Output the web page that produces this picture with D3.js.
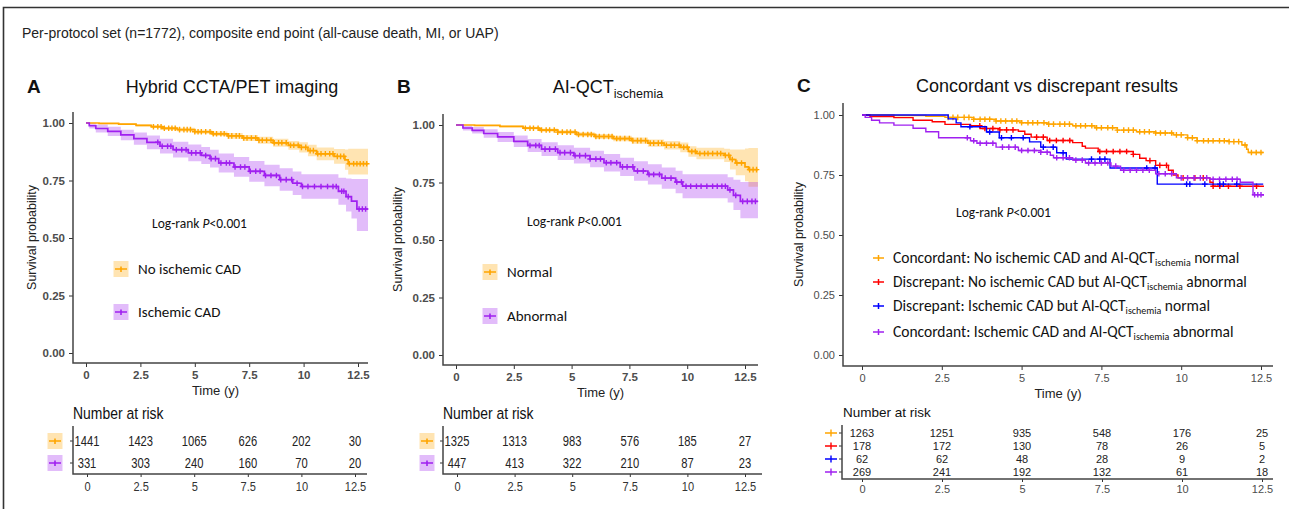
<!DOCTYPE html>
<html>
<head>
<meta charset="utf-8">
<script src="https://cdn.jsdelivr.net/npm/d3@7/dist/d3.min.js"></script>
<style>
  body { margin: 0; background: #fff; }
  svg text { font-family: "Liberation Sans", Arial, sans-serif; }
  .cal { font-family: Carlito, Calibri, Lato, sans-serif !important; }
</style>
</head>
<body>
<svg id="fig" width="1289" height="509"></svg>
<script>
// ---- data ----
const xTicks = [0, 2.5, 5, 7.5, 10, 12.5];
const xTickLabels = ['0', '2.5', '5', '7.5', '10', '12.5'];
const yTicks = [0, 0.25, 0.5, 0.75, 1];
const yTickLabels = ['0.00', '0.25', '0.50', '0.75', '1.00'];
const riskTimes = [0, 2.5, 5, 7.5, 10, 12.5];

// rows: [time, survival, lower CI, upper CI]
const hybridNoIsch = [
  [0,1,1,1],[0.6,.998,.995,1],[1.5,.995,.991,.999],[2.3,.99,.985,.995],[3.0,.984,.978,.99],
  [3.5,.977,.97,.984],[4.2,.971,.963,.979],[5.0,.962,.953,.971],[5.8,.953,.943,.963],
  [6.5,.944,.932,.956],[7.2,.935,.922,.948],[7.9,.925,.91,.94],[8.6,.914,.897,.931],
  [9.3,.903,.884,.922],[9.8,.894,.872,.916],[10.2,.88,.855,.905],[10.6,.866,.838,.894],
  [11.4,.855,.823,.887],[11.9,.84,.797,.885],[12.05,.823,.776,.888],[12.96,.823,.776,.888]
];
const hybridIsch = [
  [0,1,1,1],[0.15,.988,.976,1],[0.45,.976,.959,.993],[1.0,.964,.944,.984],[1.6,.948,.925,.971],
  [2.2,.932,.905,.959],[2.8,.916,.886,.946],[3.4,.899,.867,.931],[4.0,.884,.85,.918],
  [4.7,.87,.834,.906],[5.3,.859,.822,.896],[5.7,.845,.806,.884],[6.1,.826,.785,.867],
  [6.8,.809,.766,.852],[7.5,.79,.745,.835],[8.2,.772,.725,.819],[8.9,.754,.705,.803],
  [9.5,.738,.687,.789],[9.9,.724,.671,.777],[11.6,.703,.645,.762],[11.95,.68,.615,.759],
  [12.2,.66,.585,.757],[12.45,.626,.53,.757],[12.96,.626,.53,.757]
];
const hybridNoIschCens = [3.1,3.3,3.45,3.6,3.8,3.95,4.1,4.3,4.5,4.65,4.8,5.0,5.15,5.3,5.5,5.7,5.85,6.0,
  6.2,6.35,6.55,6.7,6.9,7.05,7.25,7.4,7.6,7.8,7.95,8.1,8.3,8.5,8.65,8.85,9.0,9.2,9.4,9.55,9.75,9.9,
  10.1,10.3,10.45,10.65,10.8,11.0,11.2,11.35,11.55,11.7,11.85,12.1,12.3,12.45,12.6,12.75,12.9];
const hybridIschCens = [3.3,3.5,3.75,3.9,4.15,4.4,4.6,4.85,5.05,5.25,5.5,5.75,5.95,6.2,6.45,6.6,6.85,
  7.1,7.3,7.55,7.8,8.0,8.25,8.5,8.75,8.95,9.2,9.45,9.7,9.95,10.2,10.5,10.8,11.1,11.35,11.5,11.75,
  11.85,12.05,12.55,12.7,12.85];
const hybridRisk = [[1441,1423,1065,626,202,30],[331,303,240,160,70,20]];

const qctNormal = [
  [0,1,1,1],[0.8,.998,.995,1],[1.9,.994,.989,.998],[2.9,.986,.98,.992],[3.6,.978,.971,.985],
  [4.4,.969,.961,.977],[5.2,.959,.95,.968],[6.0,.95,.939,.961],[6.8,.941,.929,.953],
  [7.6,.932,.918,.946],[8.3,.921,.905,.937],[9.0,.912,.894,.93],[9.7,.903,.882,.924],
  [10.05,.885,.862,.908],[10.4,.876,.851,.901],[11.6,.868,.839,.897],[11.85,.85,.806,.894],
  [12.1,.835,.782,.893],[12.5,.818,.755,.898],[12.65,.806,.732,.9],[13.06,.806,.732,.9]
];
const qctAbnormal = [
  [0,1,1,1],[0.3,.987,.976,.998],[0.7,.977,.963,.991],[1.2,.963,.945,.981],[1.8,.948,.926,.97],
  [2.5,.929,.904,.954],[3.1,.911,.883,.939],[3.7,.895,.865,.925],[4.4,.88,.848,.912],
  [5.1,.867,.833,.901],[5.8,.852,.816,.888],[6.4,.836,.798,.874],[7.1,.818,.778,.858],
  [7.7,.8,.758,.842],[8.3,.785,.741,.829],[8.9,.769,.723,.815],[9.5,.752,.703,.801],
  [9.8,.734,.682,.786],[11.75,.718,.663,.773],[12.0,.694,.63,.762],[12.3,.668,.595,.752],
  [13.06,.668,.595,.752]
];
const qctNormalCens = [3.0,3.2,3.35,3.55,3.7,3.9,4.05,4.25,4.4,4.6,4.8,4.95,5.15,5.3,5.5,5.7,5.85,6.05,
  6.2,6.4,6.6,6.75,6.95,7.1,7.3,7.5,7.65,7.85,8.0,8.2,8.4,8.55,8.75,8.9,9.1,9.3,9.45,9.65,9.85,10.0,
  10.2,10.35,10.55,10.75,10.9,11.1,11.3,11.45,11.65,11.8,11.95,12.15,12.35,12.7,12.85,13.0];
const qctAbnormalCens = [3.2,3.45,3.6,3.85,4.05,4.3,4.5,4.7,4.95,5.15,5.35,5.6,5.8,6.05,6.25,6.5,6.7,
  6.95,7.2,7.4,7.65,7.85,8.1,8.35,8.55,8.8,9.05,9.3,9.55,9.75,9.95,10.15,10.4,10.6,10.85,11.1,11.3,
  11.5,11.65,11.85,12.1,12.4,12.6,12.8,12.95];
const qctRisk = [[1325,1313,983,576,185,27],[447,413,322,210,87,23]];

// rows: [time, survival]
const concNormal = [
  [0,1],[1.0,.998],[2.0,.995],[2.6,.99],[3.5,.982],[4.2,.975],[5.0,.968],[5.8,.962],[6.6,.955],
  [7.3,.947],[8.0,.937],[8.6,.93],[9.2,.925],[9.75,.917],[10.2,.905],[10.5,.893],[11.5,.889],
  [11.9,.875],[12.05,.857],[12.1,.844],[12.57,.844]
];
const discIschNormal = [
  [0,1],[0.25,.994],[1.0,.989],[1.6,.978],[2.2,.972],[2.6,.961],[3.4,.955],[3.7,.944],[4.3,.938],
  [4.9,.932],[5.1,.92],[5.3,.908],[5.8,.894],[6.6,.885],[6.9,.87],[7.0,.862],[7.4,.848],[8.5,.836],
  [8.7,.82],[8.9,.81],[9.2,.79],[9.6,.77],[9.75,.75],[9.9,.738],[10.9,.72],[11.0,.703],[12.57,.7]
];
const discIschAbn = [
  [0,1],[2.7,.984],[2.95,.967],[3.1,.951],[3.9,.929],[4.3,.905],[5.25,.888],[5.6,.866],[6.1,.843],
  [6.4,.816],[7.77,.779],[9.25,.712],[12.57,.712]
];
const concIsch = [
  [0,1],[0.1,.99],[0.3,.978],[0.55,.967],[1.0,.958],[1.6,.945],[2.0,.93],[2.4,.905],[3.4,.893],
  [3.6,.882],[4.2,.866],[4.9,.852],[5.6,.845],[5.9,.832],[6.0,.822],[6.6,.812],[7.0,.8],[7.8,.787],
  [8.1,.77],[9.2,.755],[9.85,.738],[10.9,.732],[11.85,.72],[12.25,.668],[12.57,.664]
];
const concNormalCens = [2.7,2.85,3.0,3.2,3.35,3.5,3.7,3.85,4.0,4.2,4.35,4.5,4.7,4.85,5.0,5.2,5.35,5.5,
  5.7,5.85,6.0,6.2,6.35,6.5,6.7,6.85,7.0,7.2,7.35,7.5,7.7,7.85,8.0,8.2,8.35,8.5,8.7,8.85,9.0,9.2,9.35,
  9.5,9.7,9.85,10.0,10.2,10.35,10.5,10.7,10.85,11.0,11.2,11.35,11.5,11.65,11.8,12.0,12.2,12.35,12.5];
const discIschNormalCens = [3.69,3.85,4.1,4.32,4.53,4.73,5.47,5.68,5.88,6.09,6.3,6.51,7.45,7.66,7.87,
  8.08,8.29,8.5,9.02,9.33,9.54,10.06,10.43,10.69,11.0,11.21,11.48,11.84,12.36];
const discIschAbnCens = [3.38,4.0,4.37,4.68,5.05,5.68,5.99,6.3,7.19,7.45,7.61,8.92,9.18,10.17,10.27,
  10.74,11.21,11.32,11.74];
const concIschCens = [3.3,3.5,3.7,3.9,4.1,4.4,4.6,4.8,5.0,5.2,5.4,5.6,5.8,6.1,6.3,6.5,6.7,6.9,7.1,
  7.3,7.5,7.7,7.95,8.2,8.4,8.6,8.8,9.0,9.3,9.5,9.7,10.0,10.2,10.4,10.6,10.8,11.0,11.2,11.4,11.6,
  11.75,12.3,12.4,12.5];
const concRisk = [
  [1263,1251,935,548,176,25],
  [178,172,130,78,26,5],
  [62,62,48,28,9,2],
  [269,241,192,132,61,18]
];

const ORANGE = '#FFA500', PURPLE = '#A020F0', RED = '#FF0000', BLUE = '#0000FF';

const svg = d3.select('#fig');

// figure frame + header
svg.append('path').attr('d', 'M3.5,509 V7.5 H1289')
  .attr('fill', 'none').attr('stroke', '#333').attr('stroke-width', 1.6);
svg.append('text').attr('x', 22).attr('y', 38).attr('font-size', 14).attr('fill', '#222')
  .text('Per-protocol set (n=1772), composite end point (all-cause death, MI, or UAP)');

const survAt = (data, t) => {
  let s = data[0][1];
  data.forEach(r => { if (r[0] <= t) s = r[1]; });
  return s;
};

const plusPath = (x, y, h) => `M${x - h},${y}H${x + h}M${x},${y - h}V${y + h}`;

function styleAxis(g, bold, size) {
  g.selectAll('.tick line').attr('stroke', '#333').attr('stroke-width', 1);
  g.selectAll('.tick text').attr('fill', '#4d4d4d').attr('font-size', size)
    .attr('font-weight', bold ? 'bold' : 'normal')
    .attr('font-family', '"Liberation Sans", Arial, sans-serif');
  g.select('.domain').remove();
}

function drawSurv(p) {
  const x = d3.scaleLinear().domain([0, 12.5]).range([p.x0, p.x125]);
  const y = d3.scaleLinear().domain([0, 1]).range([p.y0, p.y1]);
  const g = svg.append('g');

  p.series.forEach(s => {
    if (!s.band) return;
    g.append('path').datum(s.data)
      .attr('d', d3.area().curve(d3.curveStepAfter)
        .x(d => x(d[0])).y0(d => y(d[2])).y1(d => y(d[3])))
      .attr('fill', s.color).attr('fill-opacity', 0.3);
  });
  p.series.forEach(s => {
    g.append('path').datum(s.data)
      .attr('d', d3.line().curve(d3.curveStepAfter).x(d => x(d[0])).y(d => y(d[1])))
      .attr('fill', 'none').attr('stroke', s.color).attr('stroke-width', p.lw);
    g.append('path')
      .attr('d', s.cens.map(t => plusPath(x(t), y(survAt(s.data, t)), 2.8)).join(''))
      .attr('fill', 'none').attr('stroke', s.color).attr('stroke-width', p.cw);
  });

  const ax = g.append('g').attr('transform', `translate(0,${p.bottom})`)
    .call(d3.axisBottom(x).tickValues(xTicks).tickFormat((d, i) => xTickLabels[i])
      .tickSize(4).tickPadding(4));
  styleAxis(ax, p.bold, p.tickSize);
  const ay = g.append('g').attr('transform', `translate(${p.left},0)`)
    .call(d3.axisLeft(y).tickValues(yTicks).tickFormat((d, i) => yTickLabels[i])
      .tickSize(4).tickPadding(4));
  styleAxis(ay, p.bold, p.tickSize);
  g.append('path').attr('d', `M${p.left},${p.top}V${p.bottom}H${p.right}`)
    .attr('fill', 'none').attr('stroke', '#444').attr('stroke-width', 1.5);

  g.append('text').attr('x', (p.left + p.right) / 2 + p.xlabDx).attr('y', p.bottom + 32)
    .attr('text-anchor', 'middle').attr('font-size', 13).attr('fill', '#222').text('Time (y)');
  g.append('text').attr('transform', `translate(${p.ylabX},${(p.top + p.bottom) / 2}) rotate(-90)`)
    .attr('text-anchor', 'middle').attr('font-size', 12.5).attr('fill', '#222')
    .text('Survival probability');

  const lr = g.append('text').attr('class', 'cal').attr('x', p.lrX).attr('y', p.lrY)
    .attr('font-size', 13.5).attr('fill', '#111');
  lr.append('tspan').text('Log-rank ');
  lr.append('tspan').attr('font-style', 'italic').text('P');
  lr.append('tspan').text('<0.001');
  return { x, y, g };
}

function panelTitle(letter, lx, tx, ty, parts) {
  svg.append('text').attr('x', lx).attr('y', ty).attr('font-size', 19).attr('font-weight', 'bold')
    .attr('fill', '#111').text(letter);
  const t = svg.append('text').attr('x', tx).attr('y', ty).attr('text-anchor', 'middle')
    .attr('font-size', 18).attr('fill', '#111');
  parts.forEach(pt => {
    if (pt.sub) t.append('tspan').attr('font-size', 12.5).attr('dy', 5).text(pt.text);
    else t.append('tspan').text(pt.text);
  });
}

function boxKey(cx, cy, color) {
  svg.append('rect').attr('x', cx - 7.5).attr('y', cy - 8).attr('width', 15).attr('height', 16)
    .attr('fill', color).attr('fill-opacity', 0.3);
  svg.append('path').attr('d', `M${cx - 6},${cy}H${cx + 6}M${cx},${cy - 2.5}V${cy + 3}`)
    .attr('stroke', color).attr('stroke-width', 1.6);
}

function boxLegend(kx, ys, labels, colors) {
  labels.forEach((lab, i) => {
    boxKey(kx, ys[i], colors[i]);
    svg.append('text').attr('class', 'cal').attr('x', kx + 17).attr('y', ys[i] + 5)
      .attr('font-size', 15).attr('fill', '#111').text(lab);
  });
}

// condensed look of the R risk table (Arial Narrow is not installed)
const squeeze = (sel, k) => sel.attr('transform', function () {
  const x = +this.getAttribute('x') || 0, y = +this.getAttribute('y') || 0;
  this.setAttribute('x', 0); this.setAttribute('y', 0);
  return `translate(${x},${y}) scale(${k},1)`;
});

function riskTableAB(p, rows, colors) {
  const x = d3.scaleLinear().domain([0, 12.5]).range([p.x0, p.x125]);
  const g = svg.append('g');
  g.append('text').attr('x', p.left).attr('y', p.titleY)
    .attr('font-size', 17).attr('fill', '#111').text('Number at risk').call(squeeze, 0.82);
  rows.forEach((r, i) => {
    g.selectAll(null).data(r).join('text')
      .attr('x', (d, j) => x(riskTimes[j])).attr('y', p.rowY[i] + 5)
      .attr('text-anchor', 'middle').attr('font-size', 14).attr('fill', '#222').text(d => d)
      .call(squeeze, 0.8);
    g.append('line').attr('x1', p.left - 3).attr('x2', p.left).attr('y1', p.rowY[i]).attr('y2', p.rowY[i])
      .attr('stroke', '#333');
    boxKey(p.keyX, p.rowY[i], colors[i]);
  });
  const ax = g.append('g').attr('transform', `translate(0,${p.bottom})`)
    .call(d3.axisBottom(x).tickValues(xTicks).tickFormat((d, i) => xTickLabels[i]).tickSize(3).tickPadding(4));
  styleAxis(ax, false, 13.5);
  ax.selectAll('.tick text').attr('fill', '#333').attr('transform', 'scale(0.82,1)');
  g.append('path').attr('d', `M${p.left},${p.top}V${p.bottom}H${p.right}`)
    .attr('fill', 'none').attr('stroke', '#444').attr('stroke-width', 1.5);
}

// ---- Panel A ----
panelTitle('A', 27, 232, 93, [{ text: 'Hybrid CCTA/PET imaging' }]);
drawSurv({
  x0: 86, x125: 358, y0: 353, y1: 123, left: 73, right: 368, top: 112, bottom: 363,
  bold: true, tickSize: 11.5, lw: 1.7, cw: 1.4, xlabDx: -5, ylabX: 36, lrX: 152, lrY: 228,
  series: [
    { data: hybridNoIsch, cens: hybridNoIschCens, color: ORANGE, band: true },
    { data: hybridIsch, cens: hybridIschCens, color: PURPLE, band: true }
  ]
});
boxLegend(121, [269, 312], ['No ischemic CAD', 'Ischemic CAD'], [ORANGE, PURPLE]);
riskTableAB({ x0: 87, x125: 355, left: 73, right: 367, top: 426, bottom: 474, titleY: 419,
  rowY: [441, 463], keyX: 55 }, hybridRisk, [ORANGE, PURPLE]);

// ---- Panel B ----
panelTitle('B', 397, 608, 93, [{ text: 'AI-QCT' }, { text: 'ischemia', sub: true }]);
drawSurv({
  x0: 456, x125: 745, y0: 355, y1: 125, left: 443, right: 758, top: 114, bottom: 365,
  bold: true, tickSize: 11.5, lw: 1.7, cw: 1.4, xlabDx: 0, ylabX: 402, lrX: 527, lrY: 226,
  series: [
    { data: qctNormal, cens: qctNormalCens, color: ORANGE, band: true },
    { data: qctAbnormal, cens: qctAbnormalCens, color: PURPLE, band: true }
  ]
});
boxLegend(490, [272, 316], ['Normal', 'Abnormal'], [ORANGE, PURPLE]);
riskTableAB({ x0: 457, x125: 745, left: 443, right: 762, top: 426, bottom: 474, titleY: 419,
  rowY: [441, 463], keyX: 427 }, qctRisk, [ORANGE, PURPLE]);

// ---- Panel C ----
panelTitle('C', 797, 1047, 92, [{ text: 'Concordant vs discrepant results' }]);
const cColors = [ORANGE, RED, BLUE, PURPLE];
drawSurv({
  x0: 862, x125: 1261, y0: 355, y1: 115, left: 843, right: 1273, top: 103, bottom: 366,
  bold: false, tickSize: 11, lw: 1.4, cw: 1.4, xlabDx: 0, ylabX: 803, lrX: 956, lrY: 217,
  series: [
    { data: concNormal, cens: concNormalCens, color: ORANGE },
    { data: discIschNormal, cens: discIschNormalCens, color: RED },
    { data: discIschAbn, cens: discIschAbnCens, color: BLUE },
    { data: concIsch, cens: concIschCens, color: PURPLE }
  ]
});
const cLegend = [
  ['Concordant: No ischemic CAD and AI-QCT', ' normal'],
  ['Discrepant: No ischemic CAD but AI-QCT', ' abnormal'],
  ['Discrepant: Ischemic CAD but AI-QCT', ' normal'],
  ['Concordant: Ischemic CAD and AI-QCT', ' abnormal']
];
const cLegY = [258, 282, 306, 332];
cLegend.forEach((lab, i) => {
  svg.append('path').attr('d', `M873,${cLegY[i]}H884M878.5,${cLegY[i] - 3}V${cLegY[i] + 3}`)
    .attr('stroke', cColors[i]).attr('stroke-width', 1.5);
  const t = svg.append('text').attr('class', 'cal').attr('x', 893).attr('y', cLegY[i] + 5)
    .attr('font-size', 15.5).attr('fill', '#111');
  t.append('tspan').text(lab[0]);
  t.append('tspan').attr('font-size', 10).attr('dy', 3).text('ischemia');
  t.append('tspan').attr('dy', -3).text(lab[1]);
});

// C risk table
(() => {
  const x = d3.scaleLinear().domain([0, 12.5]).range([862, 1262]);
  const g = svg.append('g');
  const rowY = [433, 446, 459, 472];
  g.append('text').attr('x', 843).attr('y', 417).attr('font-size', 13.5).attr('fill', '#111')
    .text('Number at risk');
  concRisk.forEach((r, i) => {
    g.selectAll(null).data(r).join('text')
      .attr('x', (d, j) => x(riskTimes[j])).attr('y', rowY[i] + 4)
      .attr('text-anchor', 'middle').attr('font-size', 11).attr('fill', '#222').text(d => d);
    g.append('line').attr('x1', 839).attr('x2', 842).attr('y1', rowY[i]).attr('y2', rowY[i]).attr('stroke', '#333');
    g.append('path').attr('d', `M825,${rowY[i]}H837M831,${rowY[i] - 3.5}V${rowY[i] + 3.5}`)
      .attr('stroke', cColors[i]).attr('stroke-width', 1.4);
  });
  const ax = g.append('g').attr('transform', 'translate(0,479)')
    .call(d3.axisBottom(x).tickValues(xTicks).tickFormat((d, i) => xTickLabels[i]).tickSize(3).tickPadding(3));
  styleAxis(ax, false, 11);
  g.append('path').attr('d', 'M842,425V479H1273').attr('fill', 'none').attr('stroke', '#444').attr('stroke-width', 1.5);
})();
</script>
</body>
</html>
